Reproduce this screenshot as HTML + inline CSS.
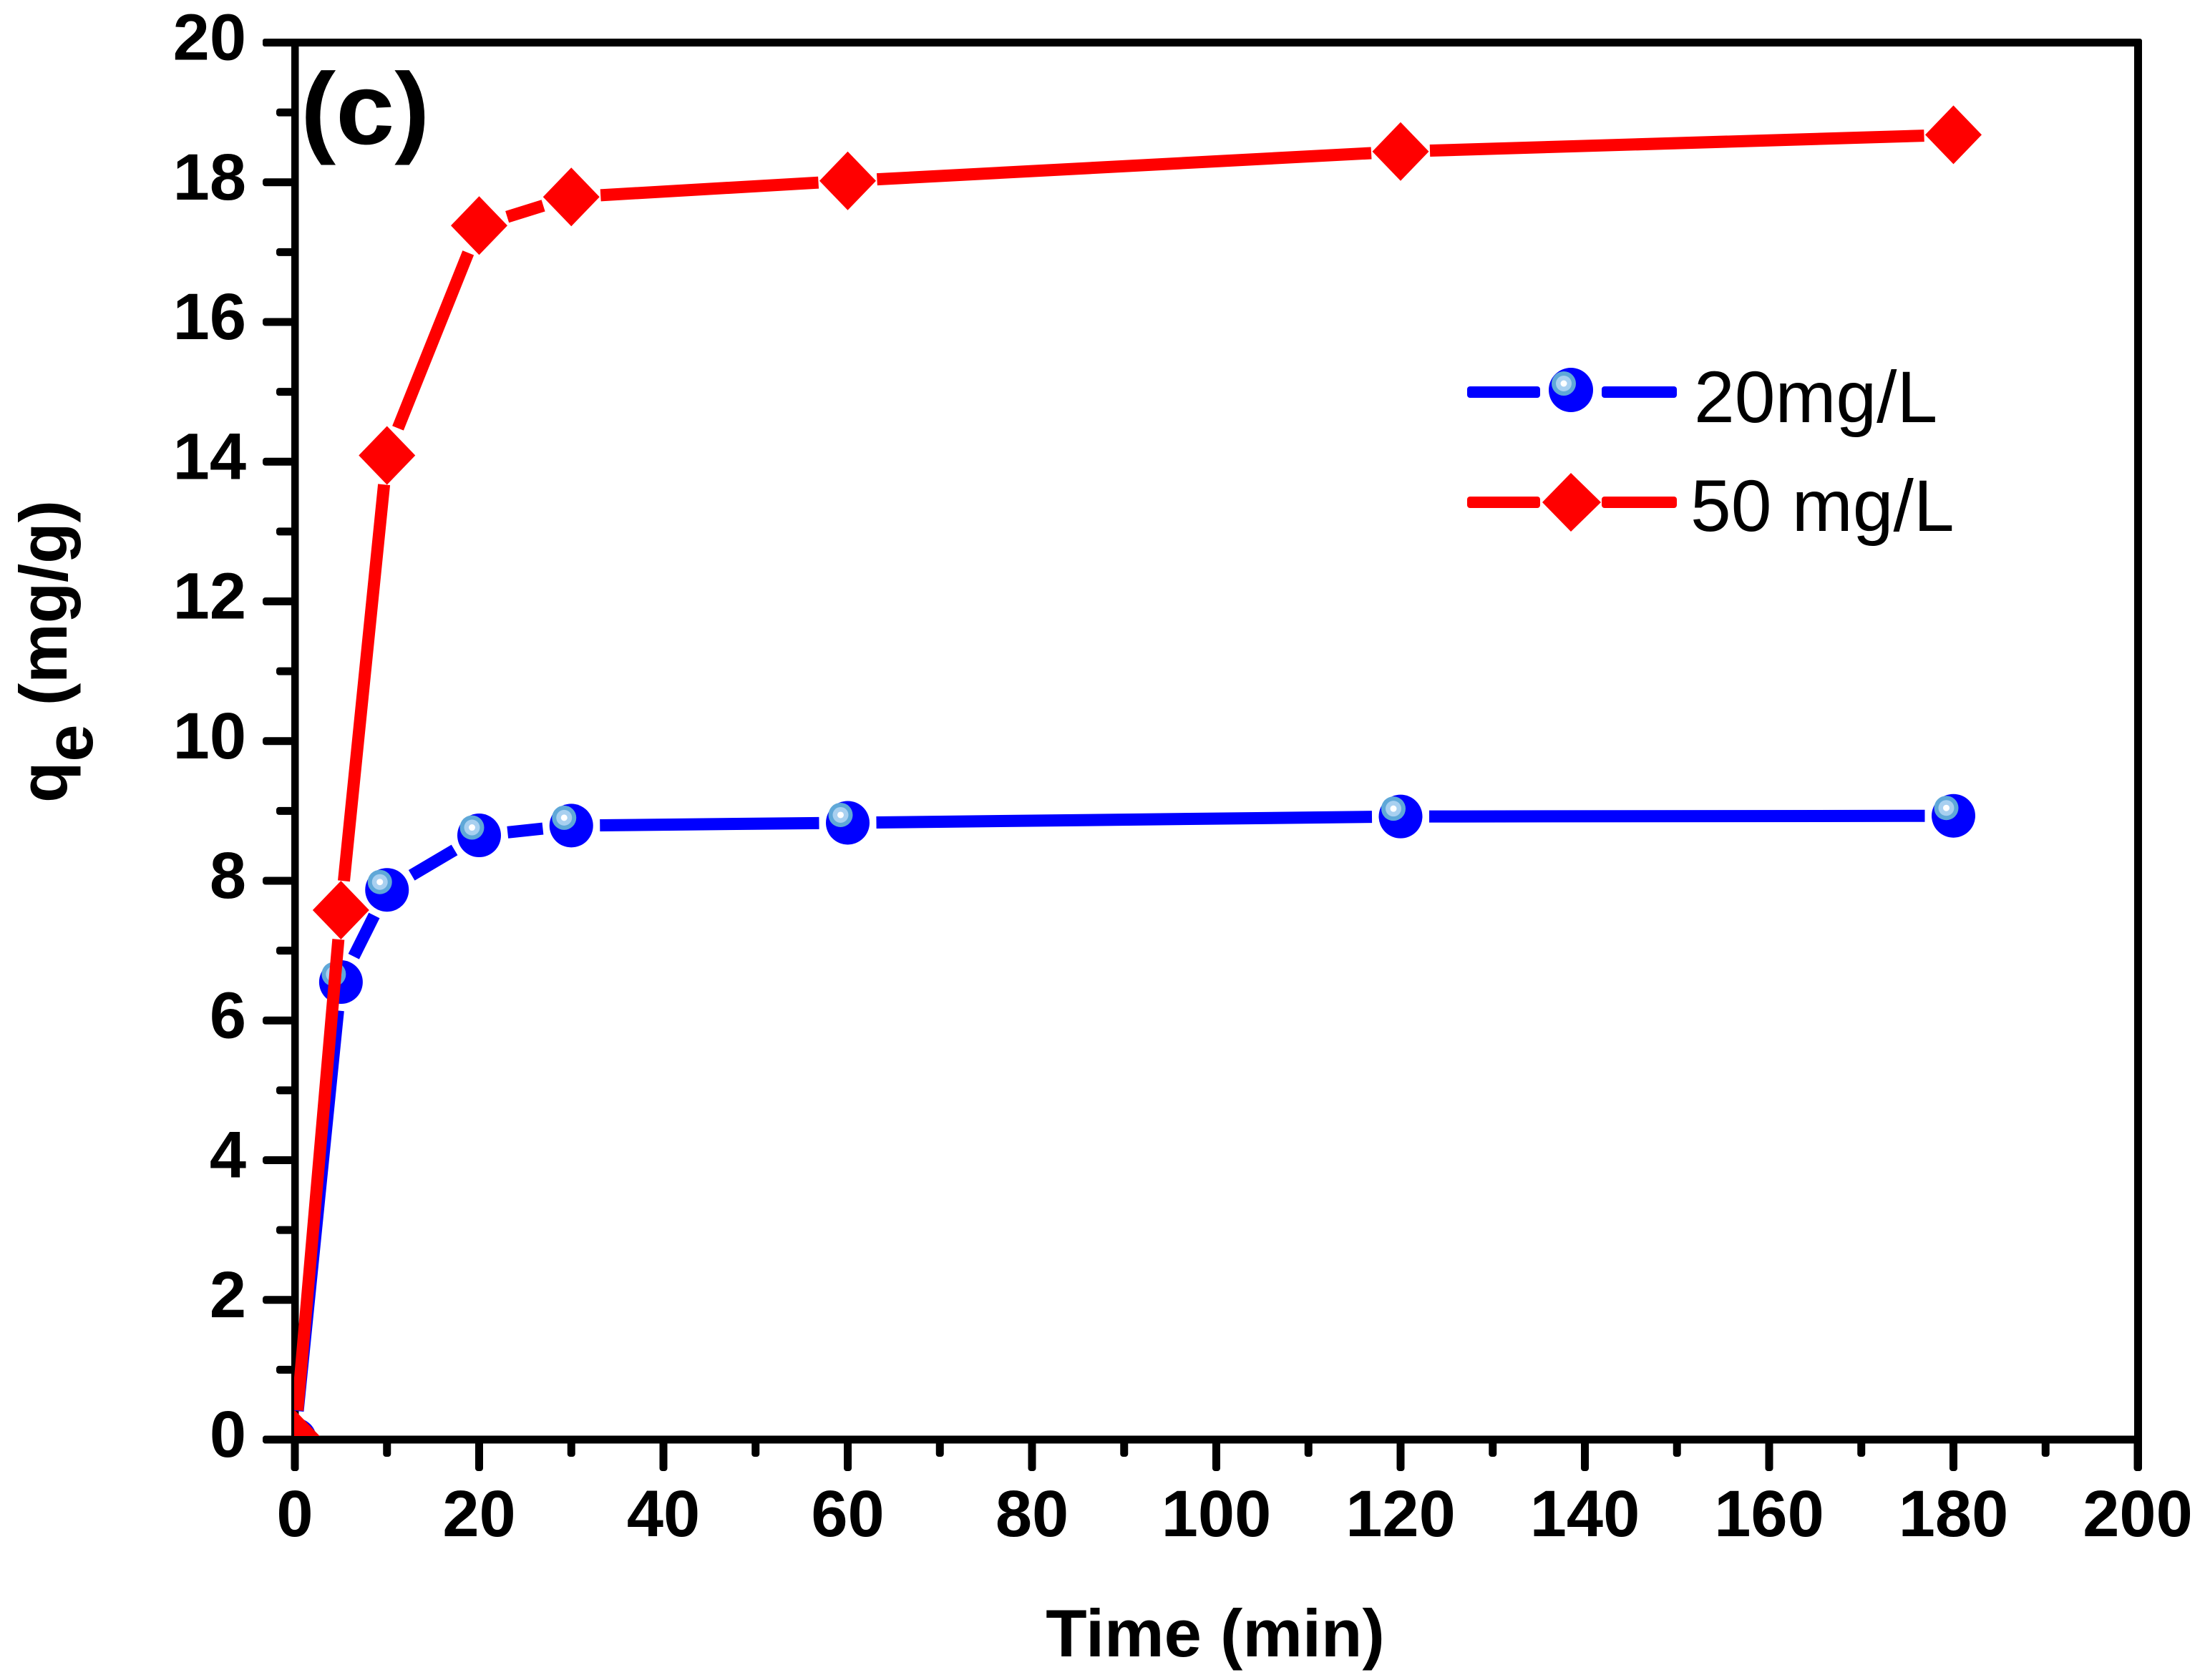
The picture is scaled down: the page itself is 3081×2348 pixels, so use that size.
<!DOCTYPE html>
<html lang="en">
<head>
<meta charset="utf-8">
<title>qe vs Time</title>
<style>
html,body{margin:0;padding:0;background:#fff;}
svg{display:block;}
text{font-family:"Liberation Sans",Arial,sans-serif;fill:#000;}
.tick{font-weight:700;font-size:92px;}
.title{font-weight:700;font-size:94px;}
.legend{font-weight:400;font-size:102px;}
</style>
</head>
<body>
<svg id="chart" xmlns="http://www.w3.org/2000/svg" width="3081" height="2348" viewBox="0 0 3081 2348">
  <rect x="0" y="0" width="3081" height="2348" fill="#fff"/>
  <defs>
    <clipPath id="plot-clip"><rect x="411" y="54" width="2576" height="1953"/></clipPath>
  </defs>
  <g id="axes">
    <rect x="367" y="54" width="2626" height="11" rx="3" fill="#000"/>
    <rect x="407" y="54" width="10.5" height="2002" rx="4" fill="#000"/>
    <rect x="2982" y="54" width="11" height="2002" rx="4" fill="#000"/>
    <rect x="367" y="2006.5" width="2626" height="11" rx="4" fill="#000"/>
  </g>
  <g id="ticks"></g>
  <g id="tick-labels"></g>
  <g id="series"></g>

  <text transform="translate(420,201) scale(1.04,1)" font-size="142" font-weight="700">(c)</text>
  <text class="title" x="1698" y="2315" text-anchor="middle">Time (min)</text>
  <text class="title" transform="translate(93,1122) rotate(-90)">q<tspan dy="36">e</tspan><tspan dy="-36"> (mg/g)</tspan></text>

  <g id="legend">
    <g>
      <rect x="2050" y="540" width="102" height="16" rx="4" fill="#0000ff"/>
      <rect x="2238" y="540" width="105" height="16" rx="4" fill="#0000ff"/>
      <circle cx="2195" cy="545" r="31" fill="#0000ff"/>
      <circle cx="2185" cy="536" r="17" fill="#5fa8d8"/>
      <circle cx="2185" cy="536" r="11" fill="#a8d0f0"/>
      <circle cx="2185" cy="536" r="4.5" fill="#ffffff"/>
      <text class="legend" x="2367" y="590">20mg/L</text>
    </g>
    <g>
      <rect x="2050" y="694" width="102" height="16" rx="4" fill="#ff0000"/>
      <rect x="2238" y="694" width="105" height="16" rx="4" fill="#ff0000"/>
      <polygon points="2195,661 2237,702 2195,743 2155,702" fill="#ff0000"/>
      <text class="legend" x="2362" y="742">50 mg/L</text>
    </g>
  </g>
</svg>
<script>
const times = [0, 5, 10, 20, 30, 60, 120, 180];
const series20 = [0, 6.55, 7.87, 8.65, 8.79, 8.83, 8.92, 8.93];
const series50 = [0, 7.58, 14.09, 17.38, 17.79, 18.02, 18.44, 18.68];
const xTickLabels = ["0", "20", "40", "60", "80", "100", "120", "140", "160", "180", "200"];
const yTickLabels = ["0", "2", "4", "6", "8", "10", "12", "14", "16", "18", "20"];
const xMinorTicks = [10, 30, 50, 70, 90, 110, 130, 150, 170, 190];
const yMinorTicks = [1, 3, 5, 7, 9, 11, 13, 15, 17, 19];

const NS = "http://www.w3.org/2000/svg";
const X0 = 412, X1 = 2987, Y0 = 2012, Y1 = 59.5;
function xScale(v) { return X0 + (X1 - X0) * v / 200; }
function yScale(v) { return Y0 + (Y1 - Y0) * v / 20; }
function make(tag, attrs, parent) {
  const el = document.createElementNS(NS, tag);
  for (const k in attrs) el.setAttribute(k, attrs[k]);
  parent.appendChild(el);
  return el;
}

const tickGroup = document.getElementById("ticks");
const labelGroup = document.getElementById("tick-labels");

xTickLabels.forEach(function (label) {
  const x = xScale(Number(label));
  const t = make("rect", { x: x - 5.5, y: 2012, width: 11, height: 44, rx: 4, fill: "#000" }, tickGroup);
  
  
  const l = make("text", { x: x, y: 2147, "text-anchor": "middle", class: "tick" }, labelGroup);
  l.textContent = label;
  
  
});
xMinorTicks.forEach(function (v) {
  const x = xScale(v);
  const t = make("rect", { x: x - 5.5, y: 2012, width: 11, height: 24, rx: 4, fill: "#000" }, tickGroup);
  
  
});
yTickLabels.forEach(function (label) {
  const y = yScale(Number(label));
  const t = make("rect", { x: 367, y: y - 5.5, width: 45, height: 11, rx: 4, fill: "#000" }, tickGroup);
  
  
  const l = make("text", { x: 344, y: y + 24, "text-anchor": "end", class: "tick" }, labelGroup);
  l.textContent = label;
  
  
});
yMinorTicks.forEach(function (v) {
  const y = yScale(v);
  const t = make("rect", { x: 386, y: y - 5.5, width: 26, height: 11, rx: 4, fill: "#000" }, tickGroup);
  
  
});

const seriesGroup = document.getElementById("series");
const clipped = make("g", { "clip-path": "url(#plot-clip)" }, seriesGroup);



function drawSegments(values, color, gap, parent) {
  for (let i = 0; i < times.length - 1; i++) {
    const x1 = xScale(times[i]), y1 = yScale(values[i]);
    const x2 = xScale(times[i + 1]), y2 = yScale(values[i + 1]);
    const d = Math.hypot(x2 - x1, y2 - y1);
    if (d <= gap * 2) continue;
    const ux = (x2 - x1) / d, uy = (y2 - y1) / d;
    const seg = make("line", {
      x1: x1 + ux * gap, y1: y1 + uy * gap,
      x2: x2 - ux * gap, y2: y2 - uy * gap,
      stroke: color, "stroke-width": 17, "stroke-linecap": "butt"
    }, parent);
    
    
  }
}

/* 20 mg/L series */
const blue = make("g", {}, clipped);


drawSegments(series20, "#0000ff", 40, blue);
times.forEach(function (t, i) {
  const cx = xScale(t), cy = yScale(series20[i]);
  const g = make("g", {}, blue);
  
  
  make("circle", { cx: cx, cy: cy, r: 30.5, fill: "#0000ff" }, g);
  make("circle", { cx: cx - 10, cy: cy - 11, r: 17, fill: "#5fa8d8" }, g);
  make("circle", { cx: cx - 10, cy: cy - 11, r: 11, fill: "#a8d0f0" }, g);
  make("circle", { cx: cx - 10, cy: cy - 11, r: 4.5, fill: "#ffffff" }, g);
});

/* 50 mg/L series */
const red = make("g", {}, clipped);


drawSegments(series50, "#ff0000", 41, red);
times.forEach(function (t, i) {
  const cx = xScale(t), cy = yScale(series50[i]);
  const pts = [[cx, cy - 41], [cx + 39.5, cy], [cx, cy + 41], [cx - 39.5, cy]].map(function (p) { return p.join(","); }).join(" ");
  const m = make("polygon", { points: pts, fill: "#ff0000" }, red);
  
  
});
</script>
</body>
</html>
